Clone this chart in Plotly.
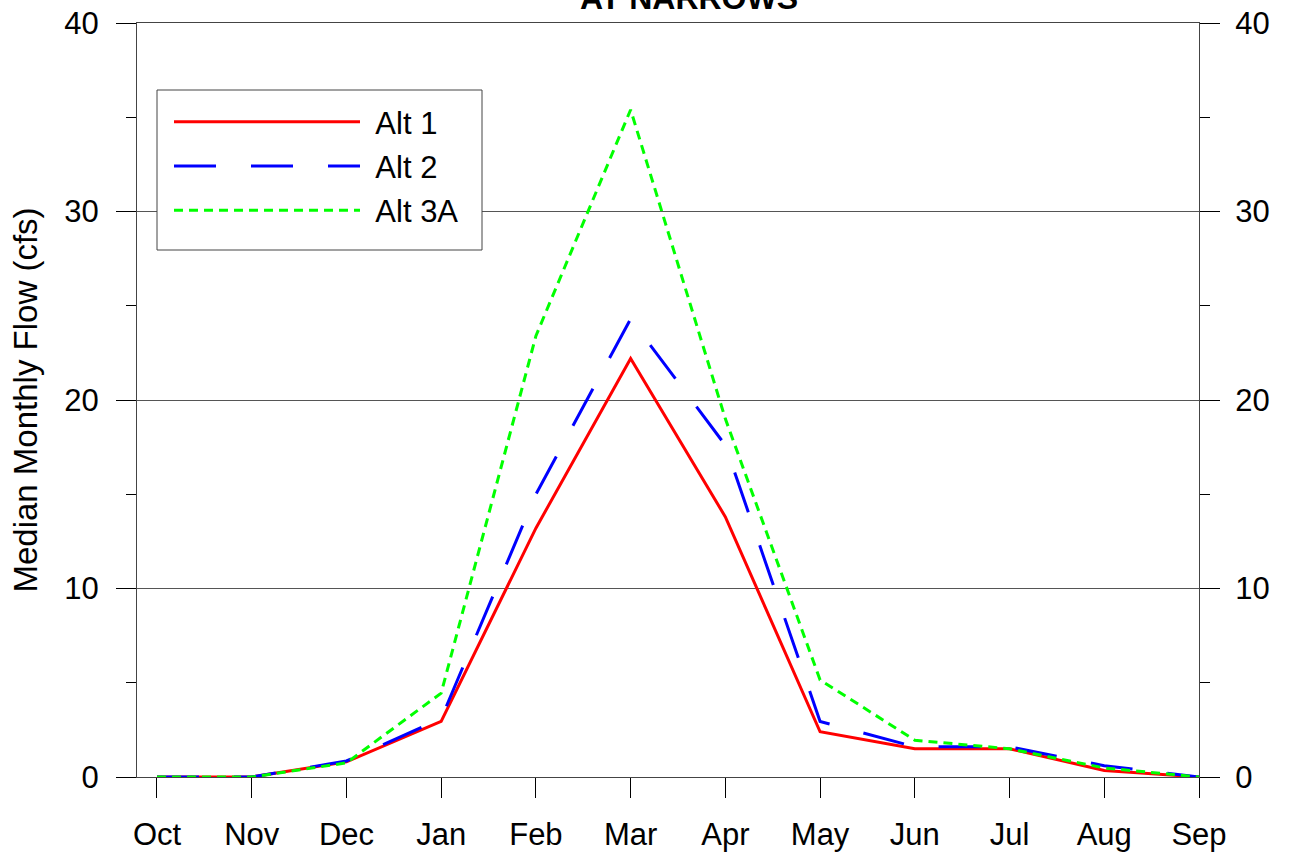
import plotly.graph_objects as go

months = ["Oct", "Nov", "Dec", "Jan", "Feb", "Mar", "Apr", "May", "Jun", "Jul", "Aug", "Sep"]
alt1 = [0.0, 0.0, 0.8, 2.95, 13.2, 22.2, 13.8, 2.4, 1.5, 1.5, 0.35, 0.0]
alt2 = [0.0, 0.0, 0.85, 3.1, 15.0, 24.3, 17.6, 2.95, 1.6, 1.6, 0.6, 0.0]
alt3a = [0.0, 0.0, 0.75, 4.45, 23.4, 35.4, 19.0, 5.15, 1.95, 1.5, 0.48, 0.0]
y_ticks = [0, 10, 20, 30, 40]
names = ["Alt 1", "Alt 2", "Alt 3A"]

FONT = "Liberation Sans, Arial, sans-serif"
FS = 31
SP = "\u2004"

L, R, T, B = 137, 94, 23, 76
W, H = 1293, 853
PW, PH = W - L - R, H - T - B


def px_x(x):
    return (x - L) / PW


def px_y(y):
    return (H - B - y) / PH


fig = go.Figure()
fig.add_trace(go.Scatter(x=months, y=alt1, mode="lines", name=SP + names[0], legendgroup="a1",
                         line=dict(color="#ff0000", width=3)))
fig.add_trace(go.Scatter(x=months, y=alt2, mode="lines", name=SP + names[1], legendgroup="a2",
                         line=dict(color="#0000ff", width=3, dash="42px,35px")))
fig.add_trace(go.Scatter(x=months, y=alt3a, mode="lines", name=SP + names[2], legendgroup="a3",
                         line=dict(color="#00ff00", width=3, dash="9px,6px")))
# invisible trace to carry the right-hand axis
fig.add_trace(go.Scatter(x=months, y=alt1, mode="lines", yaxis="y2",
                         line=dict(width=0, color="rgba(0,0,0,0)"),
                         showlegend=False, hoverinfo="skip"))

common_y = dict(
    range=[0, 40], tickvals=y_ticks, ticks="outside", ticklen=20, tickwidth=1,
    tickcolor="#000", showline=True, linecolor="#444", linewidth=1,
    tickfont=dict(family=FONT, size=FS, color="#000"),
    minor=dict(ticks="outside", ticklen=10, tickwidth=1, tickcolor="#000", dtick=5, showgrid=False),
    zeroline=False, automargin=False,
)

fig.update_layout(
    width=W, height=H,
    margin=dict(l=L, r=R, t=T, b=B),
    paper_bgcolor="white", plot_bgcolor="white",
    font=dict(family=FONT, size=FS, color="#000"),
    showlegend=True,
    legend=dict(x=px_x(169), y=px_y(95), xanchor="left", yanchor="top",
                bgcolor="rgba(0,0,0,0)", borderwidth=0,
                font=dict(family=FONT, size=FS), itemwidth=186,
                tracegroupgap=1),
    xaxis=dict(
        type="category", categoryorder="array", categoryarray=months,
        range=[-0.211, 11], ticks="outside", ticklen=20, tickwidth=1, tickcolor="#000",
        showline=True, linecolor="#444", linewidth=1, mirror=True,
        showgrid=False, zeroline=False, automargin=False, ticklabelstandoff=10,
        tickfont=dict(family=FONT, size=FS, color="#000"),
    ),
    yaxis=dict(
        **common_y, showgrid=True, gridcolor="#555", gridwidth=1, ticklabelstandoff=11,
        title=dict(text="Median Monthly Flow (cfs)", font=dict(family=FONT, size=33), standoff=16),
    ),
    yaxis2=dict(
        **common_y, overlaying="y", side="right", anchor="x", matches="y", showgrid=False,
        ticklabelstandoff=9,
    ),
    shapes=[dict(
        type="rect", xref="paper", yref="paper", layer="above",
        x0=px_x(157), x1=px_x(482), y0=px_y(250), y1=px_y(90),
        line=dict(color="#444", width=1), fillcolor="white",
    )],
    annotations=[dict(
        text="<b>AT NARROWS</b>", xref="paper", yref="paper", x=px_x(689), y=px_y(18),
        xanchor="center", yanchor="bottom", showarrow=False,
        font=dict(family=FONT, size=32, color="#000"),
    )],
)

fig.write_html("out.html")
